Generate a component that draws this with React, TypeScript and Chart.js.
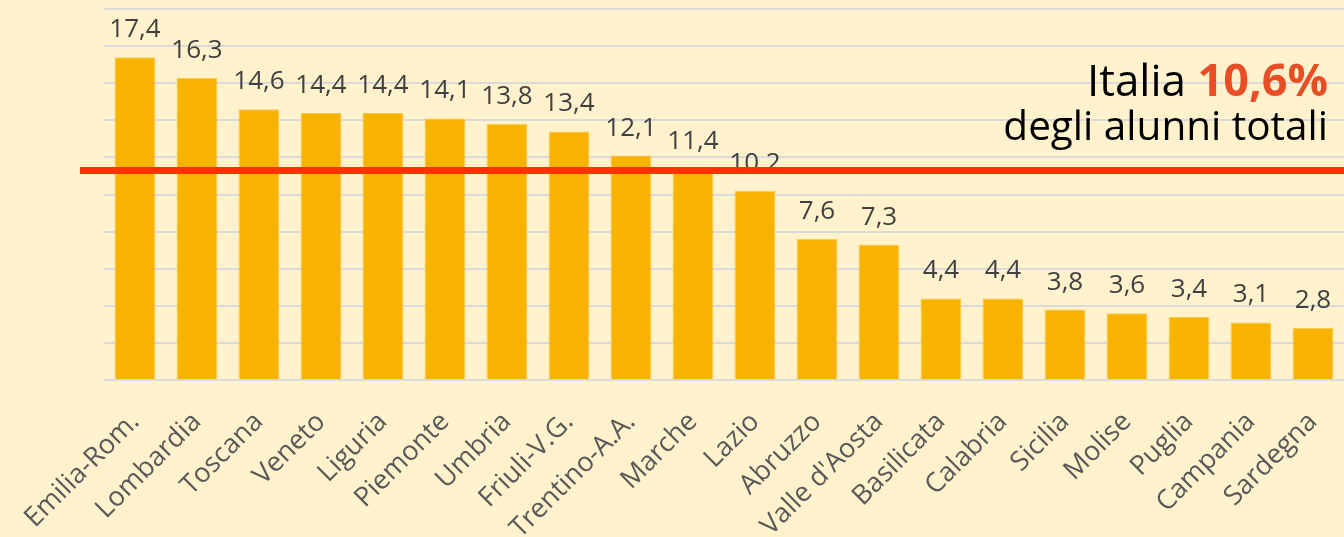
import React, { useEffect, useRef } from "react";
import { Chart, registerables } from "chart.js";

Chart.register(...registerables);

const regions: string[] = [
  "Emilia-Rom.", "Lombardia", "Toscana", "Veneto", "Liguria", "Piemonte", "Umbria",
  "Friuli-V.G.", "Trentino-A.A.", "Marche", "Lazio", "Abruzzo", "Valle d'Aosta",
  "Basilicata", "Calabria", "Sicilia", "Molise", "Puglia", "Campania", "Sardegna",
];
const values: number[] = [
  17.4, 16.3, 14.6, 14.4, 14.4, 14.1, 13.8, 13.4, 12.1, 11.4, 10.2, 7.6, 7.3,
  4.4, 4.4, 3.8, 3.6, 3.4, 3.1, 2.8,
];
const yMin = 0;
const yMax = 20;
const yStep = 2;
const italiaLineLevel = 11.3; // where the national reference line is drawn in the picture
const italiaWord = "Italia ";
const italiaPct = "10,6%";
const italiaSub = "degli alunni totali";

const fmt = (v: number) => v.toFixed(1).replace(".", ",");

const W = 1344;
const H = 537;

const overlayPlugin = {
  id: "overlay",
  afterDatasetsDraw(chart: any) {
    const ctx: CanvasRenderingContext2D = chart.ctx;
    const meta = chart.getDatasetMeta(0);
    ctx.save();
    // value labels
    ctx.font = '26px "Open Sans"';
    ctx.fillStyle = "#404040";
    ctx.textAlign = "center";
    ctx.textBaseline = "alphabetic";
    meta.data.forEach((bar: any, i: number) => {
      ctx.fillText(fmt(values[i]), bar.x, bar.y - 20);
    });
    // red national line
    const y = chart.scales.y.getPixelForValue(italiaLineLevel);
    ctx.strokeStyle = "#FF3300";
    ctx.lineWidth = 7;
    ctx.beginPath();
    ctx.moveTo(chart.chartArea.left - 24, y);
    ctx.lineTo(chart.width, y);
    ctx.stroke();
    // Italia annotation
    const right = chart.width - 16;
    ctx.textAlign = "right";
    ctx.font = 'bold 45px "Open Sans"';
    const pw = ctx.measureText(italiaPct).width;
    ctx.fillStyle = "#E84E26";
    ctx.fillText(italiaPct, right, 96);
    ctx.font = '44px "Open Sans"';
    ctx.fillStyle = "#000000";
    ctx.fillText(italiaWord, right - pw, 96);
    ctx.font = '40.5px "Open Sans"';
    ctx.fillText(italiaSub, right, 140);
    ctx.restore();
  },
};

export default function App() {
  const ref = useRef<HTMLCanvasElement | null>(null);

  useEffect(() => {
    document.body.style.margin = "0";
    document.body.style.background = "#FFF2CC";
    const canvas = ref.current;
    if (!canvas) return;
    const chart = new Chart(canvas, {
      type: "bar",
      data: {
        labels: regions,
        datasets: [
          {
            data: values,
            backgroundColor: "#F8B200",
            borderColor: "#FBCB4E",
            borderWidth: 1,
            barPercentage: 0.66,
            categoryPercentage: 1,
          },
        ],
      },
      options: {
        responsive: false,
        animation: false,
        layout: { padding: { top: 9, right: 0, left: 0, bottom: 0 } },
        plugins: {
          legend: { display: false },
          tooltip: { enabled: false },
          title: { display: false },
        },
        scales: {
          x: {
            grid: { display: false },
            border: { display: false },
            ticks: {
              color: "#595959",
              font: { family: "Open Sans", size: 27 },
              minRotation: 45,
              maxRotation: 45,
              padding: 18,
              autoSkip: false,
            },
            afterFit: (s: any) => {
              s.height = H - 380;
              s.paddingLeft = 0;
              s.paddingRight = 0;
            },
          },
          y: {
            min: yMin,
            max: yMax,
            border: { display: false },
            grid: { color: "#DADADA", lineWidth: 2, drawTicks: false },
            ticks: { display: false, stepSize: yStep },
            afterFit: (s: any) => {
              s.width = 104;
            },
          },
        },
      },
      plugins: [overlayPlugin],
    });
    return () => chart.destroy();
  }, []);

  return (
    <div
      style={{
        position: "fixed",
        left: 0,
        top: 0,
        width: W,
        height: H,
        overflow: "hidden",
        background: "#FFF2CC",
      }}
    >
      <canvas ref={ref} width={W} height={H} style={{ display: "block" }} />
    </div>
  );
}
